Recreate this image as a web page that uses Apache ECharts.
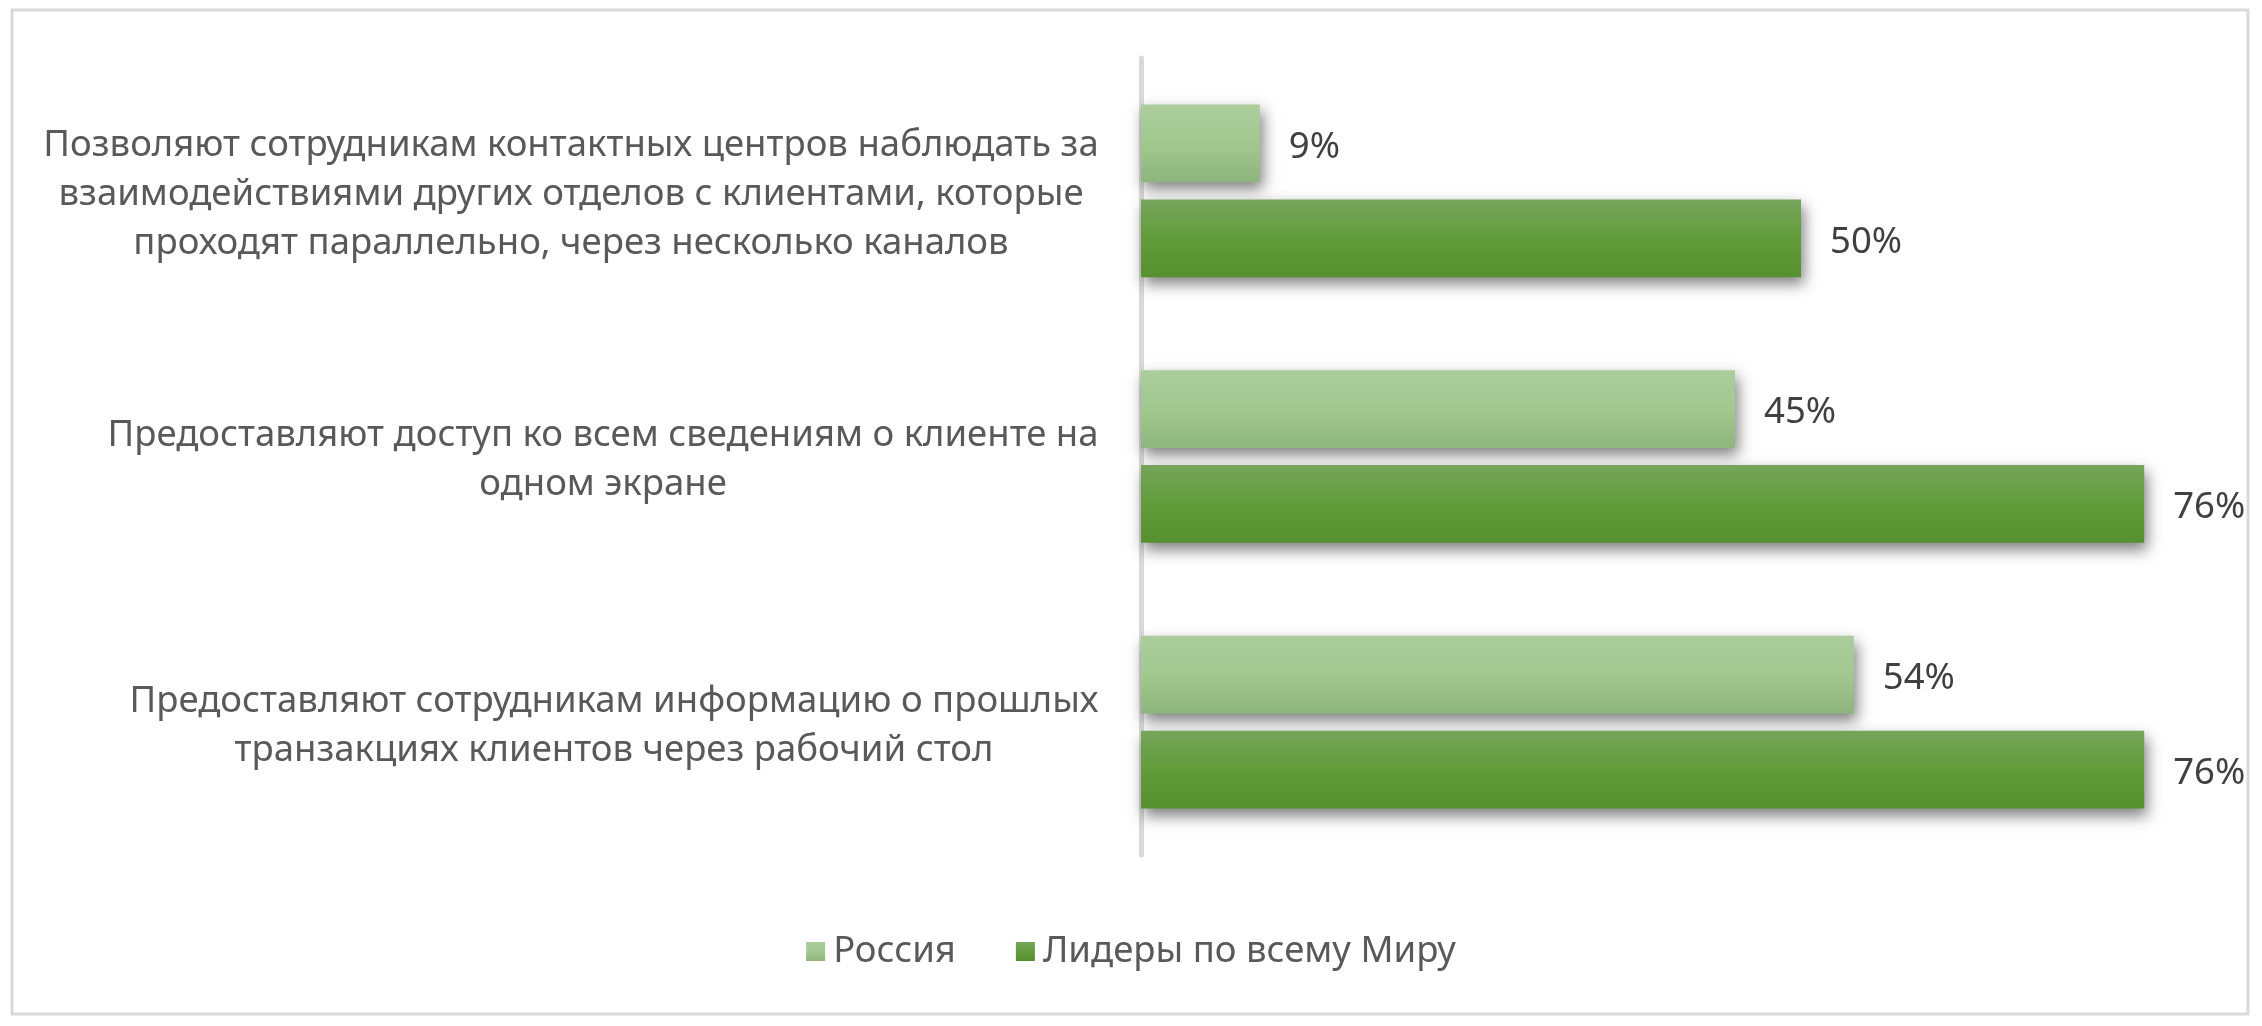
<!DOCTYPE html>
<html><head><meta charset="utf-8">
<script src="https://cdn.jsdelivr.net/npm/echarts@6/dist/echarts.min.js"></script>
<style>html,body{margin:0;padding:0;background:#fff}#c{width:2262px;height:1026px}</style>
</head><body><div id="c"></div>
<script>
const categories = [
  "Позволяют сотрудникам контактных центров наблюдать за\nвзаимодействиями других отделов с клиентами, которые\nпроходят параллельно, через несколько каналов",
  "Предоставляют доступ ко всем сведениям о клиенте на\nодном экране",
  "Предоставляют сотрудникам информацию о прошлых\nтранзакциях клиентов через рабочий стол"
];
const seriesNames = ["Россия", "Лидеры по всему Миру"];
const russia = [9, 45, 54];
const leaders = [50, 76, 76];

const FONT = "Noto Sans";
const FS = 36.5;
// measure text to centre each wrapped label line within its own block
const ctx = document.createElement('canvas').getContext('2d');
ctx.font = FS + 'px "' + FONT + '"';
const rich = {};
categories.forEach(function (c, i) {
  const w = Math.max.apply(null, c.split('\n').map(function (l) { return ctx.measureText(l).width; }));
  rich['c' + i] = {width: Math.ceil(w) + 2, align: 'center', fontFamily: FONT, fontSize: FS, color: '#595959', lineHeight: 49};
});

function grad(top, mid, bot) {
  return new echarts.graphic.LinearGradient(0, 0, 0, 1, [
    {offset: 0, color: top}, {offset: 0.5, color: mid}, {offset: 1, color: bot}
  ]);
}
const shadow = {shadowColor: 'rgba(0,0,0,0.5)', shadowBlur: 14, shadowOffsetX: 3, shadowOffsetY: 7};
const lbl = {show: true, position: 'right', distance: 29, offset: [0, 4], formatter: '{c}%', fontFamily: FONT, fontSize: FS, color: '#404040'};
const chart = echarts.init(document.getElementById('c'), null, {renderer: 'canvas'});
chart.setOption({
  animation: false,
  backgroundColor: '#fff',
  graphic: [{
    type: 'rect', shape: {x: 12, y: 10, width: 2236, height: 1004},
    style: {fill: 'none', stroke: '#d9d9d9', lineWidth: 3}, z: -1
  }],
  legend: {
    data: seriesNames, bottom: 51, left: 'center', itemWidth: 19, itemHeight: 19, itemGap: 60,
    icon: 'rect',
    textStyle: {fontFamily: FONT, fontSize: FS, color: '#595959', padding: [0, 0, 0, 3]}
  },
  grid: {left: 1141, top: 58, height: 797, width: 1056, containLabel: false},
  xAxis: {type: 'value', min: 0, max: 80, show: false},
  yAxis: {
    type: 'category', data: categories, inverse: true,
    axisLine: {show: true, lineStyle: {color: '#d9d9d9', width: 5}},
    axisTick: {show: false}, splitLine: {show: false},
    axisLabel: {
      fontFamily: FONT, fontSize: FS, color: '#595959', lineHeight: 49, align: 'right', margin: 41,
      padding: [8, 0, 0, 0],
      rich: rich,
      formatter: function (v, i) {
        return v.split('\n').map(function (l) { return '{c' + i + '|' + l + '}'; }).join('\n');
      }
    }
  },
  series: [
    {
      name: seriesNames[0], type: 'bar', data: russia, barCategoryGap: '35%', barGap: '22%',
      itemStyle: Object.assign({color: grad('#abcd9c', '#a2c890', '#8fb57e')}, shadow),
      label: lbl
    },
    {
      name: seriesNames[1], type: 'bar', data: leaders, barCategoryGap: '35%', barGap: '22%',
      itemStyle: Object.assign({color: grad('#76a55b', '#629c3a', '#56902f')}, shadow),
      label: lbl
    }
  ]
});
</script></body></html>
